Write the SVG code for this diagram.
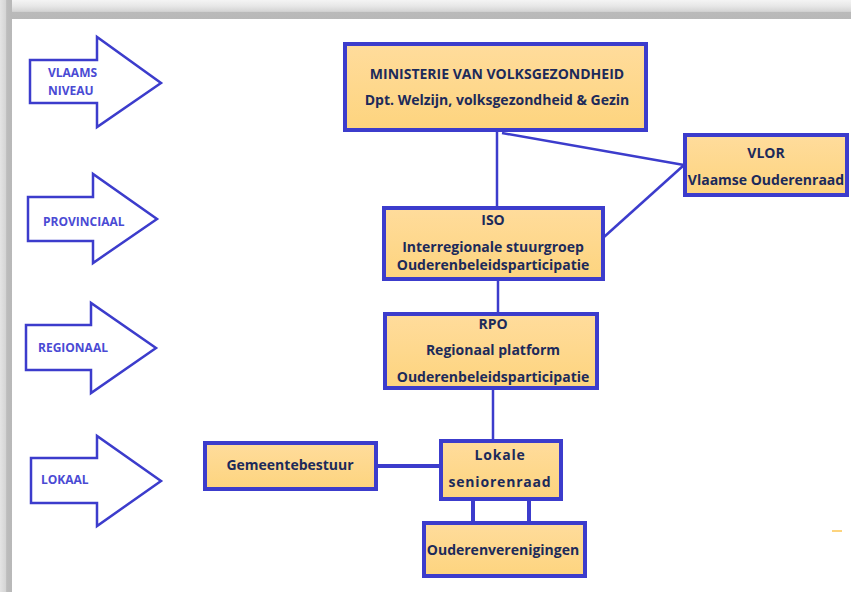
<svg xmlns="http://www.w3.org/2000/svg" width="851" height="592" viewBox="0 0 851 592">
<defs>
<linearGradient id="fill" x1="0" y1="0" x2="0" y2="1">
<stop offset="0" stop-color="#ffdc9c"/>
<stop offset="1" stop-color="#fdd47e"/>
</linearGradient>
<linearGradient id="topband" x1="0" y1="0" x2="0" y2="1">
<stop offset="0" stop-color="#f4f4f4"/>
<stop offset="0.3" stop-color="#e8e8e8"/>
<stop offset="0.6" stop-color="#d4d4d4"/>
<stop offset="0.65" stop-color="#bababa"/>
<stop offset="1" stop-color="#b8b8b8"/>
</linearGradient>
<linearGradient id="leftband" x1="0" y1="0" x2="1" y2="0">
<stop offset="0" stop-color="#e4e4e4"/>
<stop offset="0.5" stop-color="#d4d4d4"/>
<stop offset="0.55" stop-color="#bcbcbc"/>
<stop offset="1" stop-color="#b8b8b8"/>
</linearGradient>
</defs>
<style>
.box{fill:url(#fill);stroke:#3c3ccc;stroke-width:4}
.arrow{fill:#ffffff;stroke:#3c3ccc;stroke-width:2.5;stroke-linejoin:miter}
.lvl{font-family:"Open Sans","Liberation Sans",sans-serif;font-weight:bold;font-size:12px;fill:#4a4ad4}
.t{font-family:"Open Sans","Liberation Sans",sans-serif;font-weight:bold;font-size:14px;fill:#1c2a5a;text-anchor:middle}
.conn{stroke:#3c3ccc;fill:none}
</style>
<rect x="0" y="0" width="851" height="592" fill="#ffffff"/>
<rect x="0" y="0" width="851" height="19" fill="url(#topband)"/>
<rect x="0" y="0" width="12" height="592" fill="url(#leftband)"/>

<g id="arrows">
<g id="arrow-vlaams">
<polygon class="arrow" points="30,60 97,60 97,37 161,83 97,127 97,103 30,103"/>
<text class="lvl" x="48" y="77">VLAAMS</text>
<text class="lvl" x="48" y="95">NIVEAU</text>
</g>
<g id="arrow-provinciaal">
<polygon class="arrow" points="28,197 93,197 93,174 157,219 93,263 93,241 28,241"/>
<text class="lvl" x="43" y="226">PROVINCIAAL</text>
</g>
<g id="arrow-regionaal">
<polygon class="arrow" points="26,325 91,325 91,303 156,348 91,393 91,370 26,370"/>
<text class="lvl" x="38" y="352">REGIONAAL</text>
</g>
<g id="arrow-lokaal">
<polygon class="arrow" points="31,458 97,458 97,436 161,481 97,526 97,503 31,503"/>
<text class="lvl" x="41" y="484">LOKAAL</text>
</g>
</g>

<g id="connectors">
<line class="conn" stroke-width="2.5" x1="497" y1="132" x2="497" y2="207"/>
<line class="conn" stroke-width="2.5" x1="502" y1="133" x2="684" y2="165"/>
<line class="conn" stroke-width="2.5" x1="604" y1="237" x2="684" y2="165"/>
<line class="conn" stroke-width="2.5" x1="498" y1="281" x2="498" y2="313"/>
<line class="conn" stroke-width="2.5" x1="493" y1="390" x2="493" y2="440"/>
<line class="conn" stroke-width="4" x1="378" y1="466" x2="440" y2="466"/>
<line class="conn" stroke-width="4" x1="473" y1="501" x2="473" y2="522"/>
<line class="conn" stroke-width="4" x1="529" y1="501" x2="529" y2="522"/>
</g>

<g id="ministerie">
<rect class="box" x="345" y="44" width="301" height="86"/>
<text class="t" x="497" y="79" font-size="15">MINISTERIE VAN VOLKSGEZONDHEID</text>
<text class="t" x="497" y="105" font-size="15">Dpt. Welzijn, volksgezondheid &amp; Gezin</text>
</g>

<g id="vlor">
<rect class="box" x="685" y="135" width="162" height="60"/>
<text class="t" x="766" y="158" font-size="15">VLOR</text>
<text class="t" x="766" y="185" font-size="15">Vlaamse Ouderenraad</text>
</g>

<g id="iso">
<rect class="box" x="384" y="208" width="219" height="71"/>
<text class="t" x="493" y="225">ISO</text>
<text class="t" x="493" y="252">Interregionale stuurgroep</text>
<text class="t" x="493" y="270">Ouderenbeleidsparticipatie</text>
</g>

<g id="rpo">
<rect class="box" x="385" y="314" width="212" height="74"/>
<text class="t" x="493" y="329">RPO</text>
<text class="t" x="493" y="355">Regionaal platform</text>
<text class="t" x="493" y="382">Ouderenbeleidsparticipatie</text>
</g>

<g id="gemeentebestuur">
<rect class="box" x="205" y="443" width="171" height="46"/>
<text class="t" x="290" y="470" font-size="15">Gemeentebestuur</text>
</g>

<g id="lokale">
<rect class="box" x="441" y="441" width="120" height="58"/>
<text class="t" x="500" y="460" letter-spacing="0.8">Lokale</text>
<text class="t" x="500" y="487" letter-spacing="0.8">seniorenraad</text>
</g>

<g id="ouderenverenigingen">
<rect class="box" x="424" y="523" width="161" height="53"/>
<text class="t" x="503" y="555" font-size="15">Ouderenverenigingen</text>
</g>

<rect x="832" y="530" width="10" height="2" fill="#fdd47e"/>
</svg>
